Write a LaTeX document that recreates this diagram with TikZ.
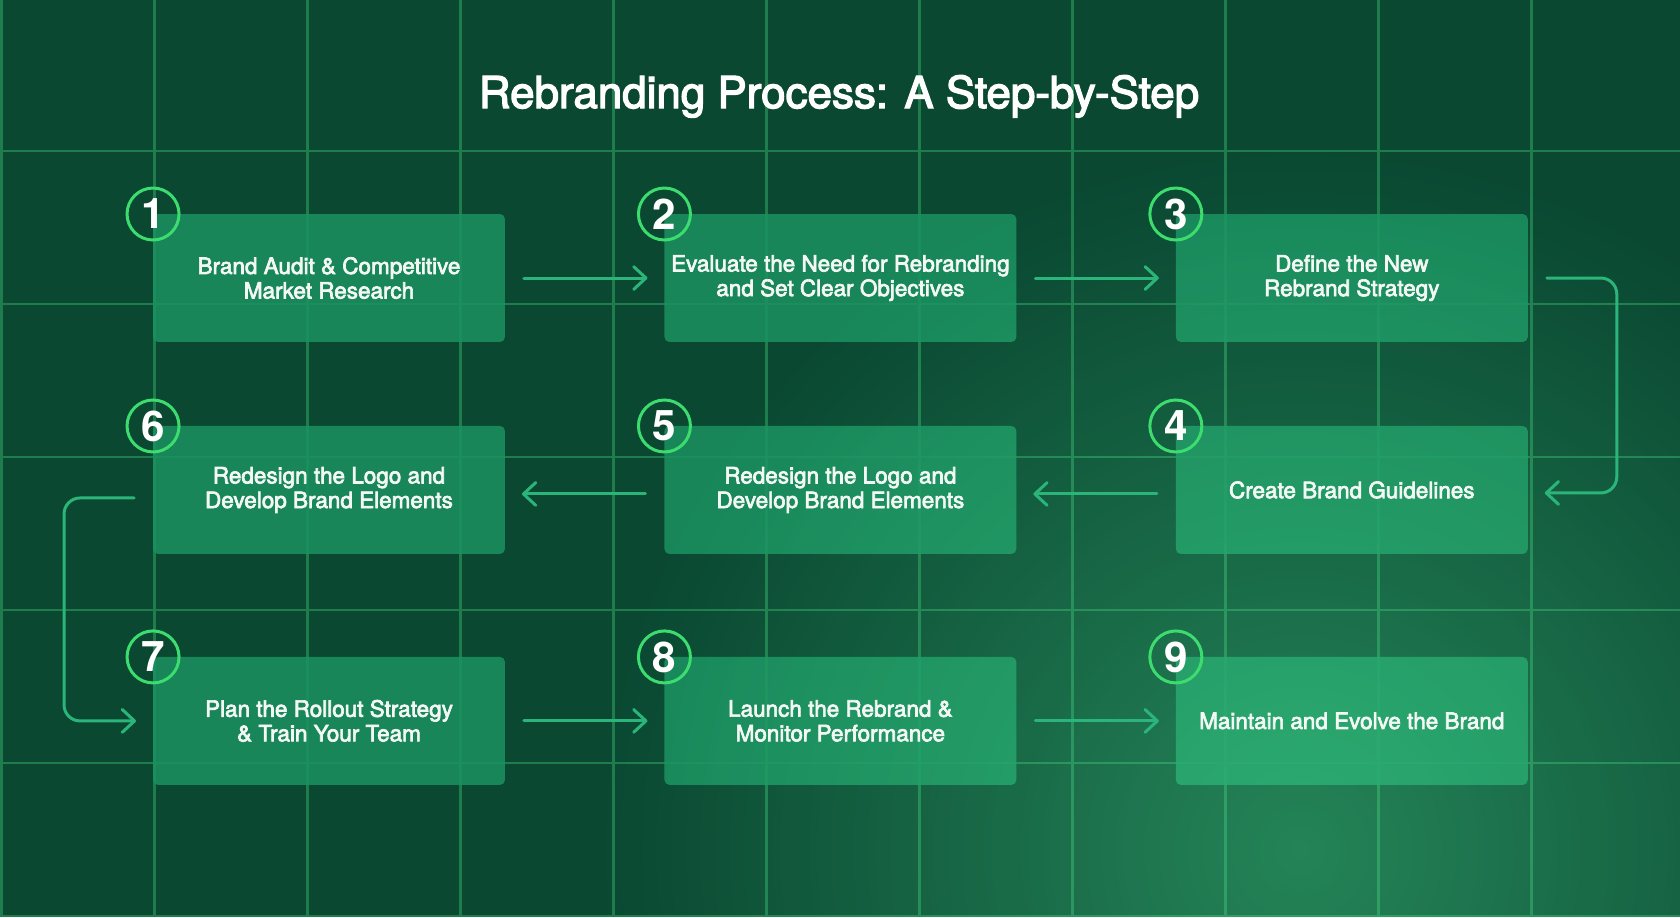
\documentclass[tikz,border=0pt]{standalone}
\usepackage{fontspec}
\setmainfont{TeX Gyre Heros}
\newfontfamily\medfont[FakeBold=3]{TeX Gyre Heros}
\usetikzlibrary{
    arrows.meta,
    positioning,
    fadings
}

\definecolor{bgdark}{HTML}{0A4832}
\definecolor{gridgreen}{HTML}{1F7C4D}
\definecolor{boxgreen}{HTML}{1B9261}
\definecolor{glowgreen}{HTML}{50E696}
\definecolor{ringgreen}{HTML}{3DDC6E}
\definecolor{arrowgreen}{HTML}{2BB57A}
\definecolor{textwhite}{HTML}{F4F8F5}

\tikzfading[name=glowfade, inner color=transparent!62, outer color=transparent!100]

\begin{document}
\begin{tikzpicture}[
    x=0.02cm, y=-0.02cm,
    node distance=3.19cm,
    glow/.style={fill=glowgreen, path fading=glowfade, fit fading=false,
                 fading transform={shift={(glowc)}, scale=16}},
    stepbox/.style={rectangle, rounded corners=0.1cm, minimum width=7.04cm, minimum height=2.56cm,
                    inner sep=0pt, outer sep=0pt, align=center, text=textwhite,
                    font=\medfont\fontsize{12.8}{14}\selectfont,
                    fill=boxgreen, fill opacity=0.85, text opacity=1,
                    postaction={glow}},
    stepnum/.style={circle, draw=ringgreen, line width=1.7pt, minimum size=1.04cm,
                    inner sep=0pt, text=white, font=\bfseries\fontsize{24}{24}\selectfont},
    gridline/.style={draw=gridgreen, line width=1.2pt},
    arrow/.style={draw=arrowgreen, line width=1.7pt, line cap=round, line join=round,
                  shorten <=0.38cm, shorten >=0.34cm,
                  -{Straight Barb[length=7pt, width=13pt, round]}}
]
    \useasboundingbox (0,0) rectangle (1680,917);
    \coordinate (glowc) at (1300,850);

    % Background and grid
    \begin{scope}
        \clip (0,0) rectangle (1680,917);
        \fill[bgdark] (0,0) rectangle (1680,917);
        \foreach \k in {0,...,10}
            \draw[gridline] ({1.5+153*\k},0) -- ++(0,917);
        \foreach \k in {0,...,5}
            \draw[gridline] (0,{151+153*\k}) -- ++(1680,0);
        \path[glow] (0,0) rectangle (1680,917);
    \end{scope}

    % Title
    \node (title) [anchor=base, text=white, font=\medfont\fontsize{25}{25}\selectfont]
        at (839,108) {Rebranding Process: A Step-by-Step};

    % Nodes
    \node (b1) [stepbox] at (329,278) {Brand Audit \& Competitive\\Market Research};
    \node (b2) [stepbox, right=of b1] {Evaluate the Need for Rebranding\\and Set Clear Objectives};
    \node (b3) [stepbox, right=of b2] {Define the New\\Rebrand Strategy};
    \node (b4) [stepbox, below=1.68cm of b3] {Create Brand Guidelines};
    \node (b5) [stepbox, left=of b4] {Redesign the Logo and\\Develop Brand Elements};
    \node (b6) [stepbox, left=of b5] {Redesign the Logo and\\Develop Brand Elements};
    \node (b7) [stepbox, below=2.06cm of b6] {Plan the Rollout Strategy\\\& Train Your Team};
    \node (b8) [stepbox, right=of b7] {Launch the Rebrand \&\\Monitor Performance};
    \node (b9) [stepbox, right=of b8] {Maintain and Evolve the Brand};

    % Arrows
    \draw [arrow] (b1) -- (b2);
    \draw [arrow] (b2) -- (b3);
    \draw [arrow, rounded corners=0.32cm] (b3.east) -- ++(89,0) |- ([yshift=-0.06cm]b4.east);
    \draw [arrow] ([yshift=-0.08cm]b4.west) -- ([yshift=-0.08cm]b5.east);
    \draw [arrow] ([yshift=-0.08cm]b5.west) -- ([yshift=-0.08cm]b6.east);
    \draw [arrow, rounded corners=0.32cm] ([yshift=-0.16cm]b6.west) -- ++(-89,0) |- (b7.west);
    \draw [arrow] (b7) -- (b8);
    \draw [arrow] (b8) -- (b9);

    % Step numbers
    \foreach \i in {1,...,9}
        \node (n\i) [stepnum] at (b\i.north west) {\i};

\end{tikzpicture}
\end{document}
